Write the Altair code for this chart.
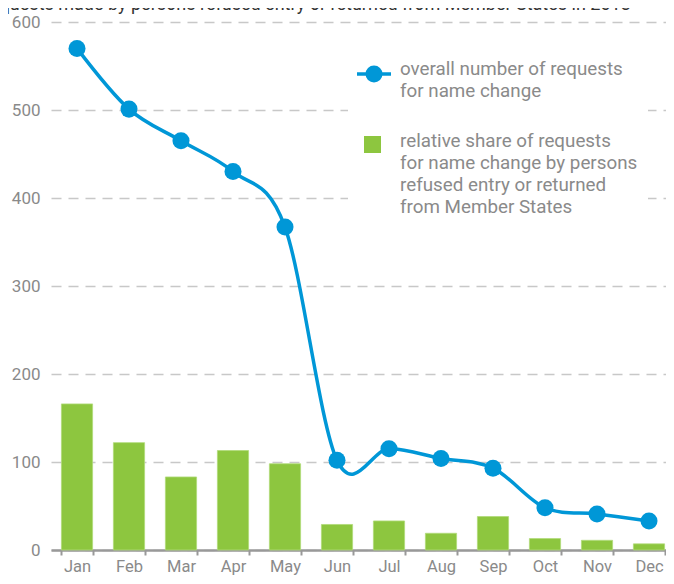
import altair as alt
import pandas as pd

months = ["Jan", "Feb", "Mar", "Apr", "May", "Jun", "Jul", "Aug", "Sep", "Oct", "Nov", "Dec"]
requests_total = [570, 501, 465, 430, 367, 102, 115, 104, 93, 48, 41, 33]
share_refused = [166, 122, 83, 113, 98, 29, 33, 19, 38, 13, 11, 7]

title_text = "Requests made by persons refused entry or returned from Member States in 2013"
legend_line_label = "overall number of requests\nfor name change"
legend_bar_label = "relative share of requests\nfor name change by persons\nrefused entry or returned\nfrom Member States"

BLUE = "#0097d7"
GREEN = "#8dc63f"
GRAY = "#8a8a8a"
FONT = "Roboto"

df = pd.DataFrame({"month": months, "requests": requests_total, "share": share_refused})

x_enc = alt.X(
    "month:N",
    sort=months,
    title=None,
    scale=alt.Scale(paddingInner=0.4, paddingOuter=0.2),
    axis=alt.Axis(
        labelAngle=0, labelColor=GRAY, labelFontSize=16.5, labelPadding=3,
        domainColor="#999999", domainWidth=2.5, tickColor="#999999", tickWidth=2,
        tickSize=5, tickBand="extent", grid=False,
    ),
)
y_scale = alt.Scale(domain=[0, 600], nice=False)
y_axis = alt.Axis(
    values=[0, 100, 200, 300, 400, 500, 600], domain=False, ticks=False,
    labelColor=GRAY, labelFontSize=17, labelPadding=11,
    grid=True, gridColor="#c8c8c8", gridDash=[10, 7], gridWidth=1.5,
)

base = alt.Chart(df)

bars = base.mark_bar(color=GREEN, stroke="#b0da78", strokeWidth=0.8).encode(
    x=x_enc,
    y=alt.Y("share:Q", scale=y_scale, axis=y_axis, title=None),
)

line = base.mark_line(color=BLUE, strokeWidth=3.5, interpolate="cardinal").encode(
    x=alt.X("month:N", sort=months),
    y=alt.Y("requests:Q", scale=y_scale),
)
points = base.mark_circle(color=BLUE, size=290, opacity=1).encode(
    x=alt.X("month:N", sort=months),
    y=alt.Y("requests:Q", scale=y_scale),
)

one = pd.DataFrame({"k": [0]})
legend_bg = alt.Chart(one).mark_rect(color="white").encode(
    x=alt.value(297), x2=alt.value(597), y=alt.value(35), y2=alt.value(200)
)
leg_line = alt.Chart(one).mark_rule(color=BLUE, strokeWidth=3.5).encode(
    x=alt.value(306), x2=alt.value(340), y=alt.value(52)
)
leg_dot = alt.Chart(one).mark_circle(color=BLUE, size=290, opacity=1).encode(
    x=alt.value(323), y=alt.value(52)
)
leg_sq = alt.Chart(one).mark_square(color=GREEN, size=289, opacity=1).encode(
    x=alt.value(321.5), y=alt.value(122.5)
)
leg_txt1 = alt.Chart(pd.DataFrame({"t": [legend_line_label]})).mark_text(
    align="left", baseline="alphabetic", font=FONT, fontSize=18.8, color=GRAY,
    lineBreak="\n", lineHeight=22,
).encode(text="t:N", x=alt.value(349), y=alt.value(53))
leg_txt2 = alt.Chart(pd.DataFrame({"t": [legend_bar_label]})).mark_text(
    align="left", baseline="alphabetic", font=FONT, fontSize=18.8, color=GRAY,
    lineBreak="\n", lineHeight=22,
).encode(text="t:N", x=alt.value(349), y=alt.value(125))

title = alt.Chart(pd.DataFrame({"t": [title_text]})).mark_text(
    align="left", baseline="alphabetic", font=FONT, fontSize=18, color="#333333",
).encode(text="t:N", x=alt.value(-72), y=alt.value(-12))

chart = alt.layer(
    bars, legend_bg, line, points, leg_line, leg_dot, leg_sq, leg_txt1, leg_txt2, title
).properties(
    width=624, height=528,
    autosize=alt.AutoSizeParams(type="none"),
    padding={"left": 43, "top": 14, "right": -9, "bottom": 25},
).configure(font=FONT).configure_view(stroke=None)

chart.save("out.html", embed_options={"renderer": "svg", "actions": False})
